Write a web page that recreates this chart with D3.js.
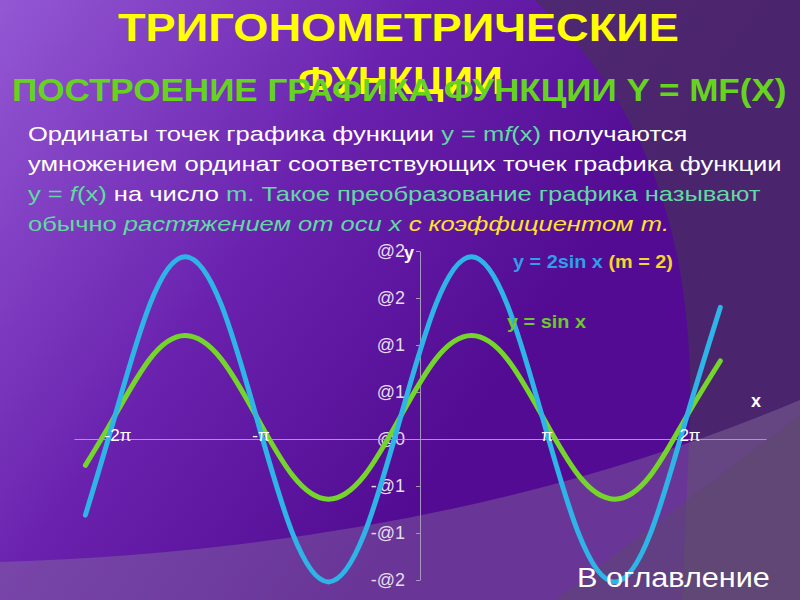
<!DOCTYPE html>
<html lang="ru">
<head>
<meta charset="UTF-8">
<title>Тригонометрические функции</title>
<script src="https://d3js.org/d3.v7.min.js"></script>
<style>
  body { margin: 0; background: #5a1a98; }
  svg { display: block; font-family: "Liberation Sans", Arial, sans-serif; }
</style>
</head>
<body>
<svg id="svg" width="800" height="600"></svg>
<script>
    // x positions in multiples of pi
    const xPi = [-2.2, -2, -1.75, -1.5, -1.25, -1, -0.75, -0.5, -0.25, 0, 0.25, 0.5, 0.75, 1, 1.25, 1.5, 1.75, 2, 2.24];
    // y = sin x (green) and y = 2sin x (blue), in axis units
    const sinVals = [-0.28, 0.23, 0.85, 1.10, 0.85, 0.23, -0.39, -0.64, -0.39, 0.23, 0.85, 1.10, 0.85, 0.23, -0.39, -0.64, -0.39, 0.23, 0.83];
    const twoSinVals = [-0.81, 0.21, 1.43, 1.94, 1.43, 0.21, -1.01, -1.52, -1.01, 0.21, 1.43, 1.94, 1.43, 0.21, -1.01, -1.52, -1.01, 0.21, 1.40];

    const yTicks = [2, 1.5, 1, 0.5, 0, -0.5, -1, -1.5];
    const yTickLabels = ["@2", "@2", "@1", "@1", "@0", "-@1", "-@1", "-@2"];
    const xTicks = [-2, -1, 1, 2];
    const xTickLabels = ["-2π", "-π", "π", "2π"];
    const xAxisExtent = [-2.28, 2.56];
    const yAxisAt = 0.14;

    const TEAL = "#62d9a4", WHITE = "#ffffff", YEL = "#ffe22e";
    const paragraph = [
        [["Ординаты точек графика функции ", WHITE], ["y = m", TEAL], ["f", TEAL, true], ["(x)", TEAL], [" получаются", WHITE]],
        [["умножением ординат соответствующих точек графика функции", WHITE]],
        [["y = ", TEAL], ["f", TEAL, true], ["(x)", TEAL], [" на число ", WHITE], ["m", TEAL], [". Такое преобразование графика называют", TEAL]],
        [["обычно ", TEAL], ["растяжением от оси x ", TEAL, true], ["с коэффициентом m.", YEL, true]]
    ];

    const svg = d3.select("#svg");
    const W = 800, H = 600;

    // background
    const defs = svg.append("defs");
    const bg = defs.append("linearGradient").attr("id", "bg")
        .attr("x1", 0).attr("y1", 0).attr("x2", 0.75).attr("y2", 0.4);
    bg.append("stop").attr("offset", 0).attr("stop-color", "#9458d4");
    bg.append("stop").attr("offset", 0.55).attr("stop-color", "#6a22ae");
    bg.append("stop").attr("offset", 1).attr("stop-color", "#520b92");
    svg.append("rect").attr("width", W).attr("height", H).attr("fill", "url(#bg)");

    svg.append("path")
        .attr("d", "M535,0 C630,90 695,210 690,420 L682,600 L800,600 L800,0 Z")
        .attr("fill", "#4a2e62").attr("opacity", 0.75);
    svg.append("path")
        .attr("d", "M0,562 Q450,548 800,400 L800,600 L0,600 Z")
        .attr("fill", "#8c78a0").attr("opacity", 0.4);
    svg.append("path")
        .attr("d", "M555,600 L800,415 L800,600 Z")
        .attr("fill", "#5a4a68").attr("opacity", 0.45);

    // text helper: stretch horizontally so the line spans a given width
    function stretched(parent, segs, x, y, size, weight, width) {
        const g = parent.append("g");
        const t = g.append("text").attr("font-size", size).attr("font-weight", weight || "normal");
        segs.forEach(s => {
            t.append("tspan").text(s[0]).attr("fill", s[1]).attr("font-style", s[2] ? "italic" : "normal");
        });
        const w = t.node().getBBox().width;
        const sx = width ? width / w : 1;
        g.attr("transform", `translate(${x},${y}) scale(${sx},1)`);
        return sx;
    }

    // titles
    stretched(svg, [["ТРИГОНОМЕТРИЧЕСКИЕ", "#ffff00"]], 118, 41, 39, "bold", 561);
    stretched(svg, [["ФУНКЦИИ", "#ffff00"]], 298, 94, 39, "bold", 205);
    stretched(svg, [["ПОСТРОЕНИЕ ГРАФИКА ФУНКЦИИ Y = MF(X)", "#66d41e"]], 12, 101, 31, "bold", 775);

    // paragraph, one stretch factor taken from the longest line
    const para = svg.append("g");
    const baseY = [141, 171, 201, 231];
    const sx = stretched(para, paragraph[1], 28, baseY[1], 20, "normal", 754);
    [0, 2, 3].forEach(i => {
        const g = para.append("g").attr("transform", `translate(28,${baseY[i]}) scale(${sx},1)`);
        const t = g.append("text").attr("font-size", 20);
        paragraph[i].forEach(s => t.append("tspan").text(s[0]).attr("fill", s[1]).attr("font-style", s[2] ? "italic" : "normal"));
    });

    // scales
    const x = d3.scaleLinear().domain([-2, 2]).range([114, 686]);
    const y = d3.scaleLinear().domain([-1.5, 2]).range([580, 251]);
    const xAxisScale = d3.scaleLinear().domain(xAxisExtent).range(xAxisExtent.map(x));

    const axisColor = "#a898bc";
    const gy = svg.append("g").attr("transform", `translate(${x(yAxisAt)},0)`)
        .call(d3.axisLeft(y).tickValues(yTicks).tickFormat((d, i) => yTickLabels[i]).tickSize(4).tickSizeOuter(0).tickPadding(11));
    gy.select(".domain").attr("stroke", axisColor).attr("stroke-width", 1);
    gy.selectAll(".tick line").attr("stroke", axisColor);
    gy.selectAll("text").attr("fill", "#e4dcee").attr("font-size", 18)
        .attr("font-family", "Liberation Sans, Arial, sans-serif");

    const gx = svg.append("g").attr("transform", `translate(0,${y(0)})`)
        .call(d3.axisBottom(xAxisScale).tickValues(xTicks).tickFormat((d, i) => xTickLabels[i]).tickSize(0));
    gx.select(".domain").attr("stroke", axisColor).attr("stroke-width", 1);
    gx.selectAll("text").remove();

    // curves
    const line = d3.line().x((d, i) => x(xPi[i])).y(d => y(d)).curve(d3.curveNatural);
    svg.append("path").datum(sinVals).attr("d", line)
        .attr("fill", "none").attr("stroke", "#74d62a").attr("stroke-width", 5).attr("stroke-linecap", "round");
    svg.append("path").datum(twoSinVals).attr("d", line)
        .attr("fill", "none").attr("stroke", "#2eb4e6").attr("stroke-width", 5).attr("stroke-linecap", "round");

    // x tick labels sit on top of the curves
    svg.append("g").selectAll("text").data(xTicks).join("text")
        .attr("x", d => x(d) + 4).attr("y", y(0) + 2)
        .attr("text-anchor", "middle").attr("font-size", 17).attr("fill", "#ffffff")
        .text((d, i) => xTickLabels[i]);

    // labels
    const lab = svg.append("g").attr("font-weight", "bold");
    lab.append("text").attr("x", 404).attr("y", 259).attr("font-size", 18).attr("fill", "#fff").text("y");
    lab.append("text").attr("x", 751).attr("y", 407).attr("font-size", 18).attr("fill", "#fff").text("x");
    stretched(svg, [["y = 2sin x ", "#2f9fe8"], ["(m = 2)", "#f2d62a"]], 513, 268, 18, "bold", 160);
    stretched(svg, [["y = sin x", "#6cc92a"]], 507, 328, 18, "bold", 79);

    stretched(svg, [["В оглавление", "#ffffff"]], 577, 587, 27, "normal", 193);
</script>
</body>
</html>
